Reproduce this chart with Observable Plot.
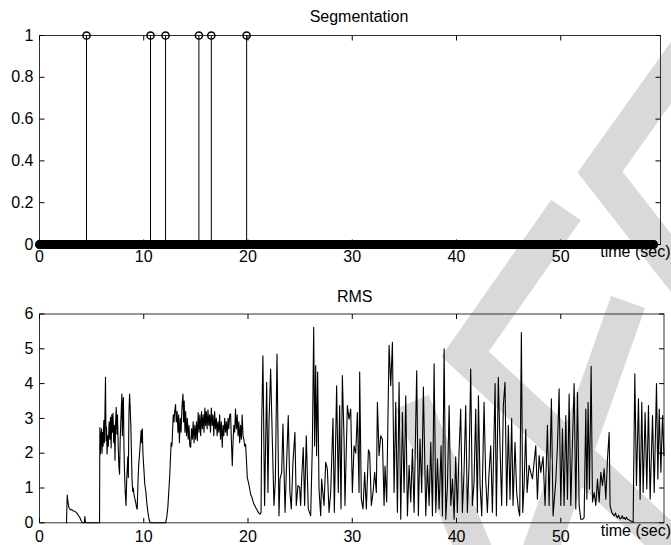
<!DOCTYPE html>
<html><head><meta charset="utf-8">
<script src="https://cdn.jsdelivr.net/npm/d3@7"></script>
<script src="https://cdn.jsdelivr.net/npm/@observablehq/plot@0.6"></script>
<style>
html,body{margin:0;padding:0;background:#fff;}
#chart{position:relative;width:671px;height:545px;overflow:hidden;background:#fff;}
#chart > svg{position:absolute;left:0;}
</style></head><body><div id="chart">
<svg id="wm" width="671" height="545" style="top:0">
<g fill="none" stroke="#d9d9d9" stroke-width="36" stroke-linejoin="miter" stroke-miterlimit="10">
<polyline points="700,32 600,172 700,300"/>
<polyline points="566,210 465,354 700,572"/>
<polyline points="412,402 478,560"/>
<polyline points="628,302 537,560"/>
</g></svg>
</div>
<script>
// ---- Segmentation (top) ----
const segBoundaries = [4.51, 10.65, 12.09, 15.29, 16.48, 19.87];
const segFrameStep = 0.05;      // analysis frame hop (s); all non-boundary frames are 0
const segDuration = 58.9;
const segXTicks = [0, 10, 20, 30, 40, 50];
const segYTicks = [0, 0.2, 0.4, 0.6, 0.8, 1];

// ---- RMS (bottom): [time (s), rms] ----
const rmsXTicks = [0, 10, 20, 30, 40, 50];
const rmsYTicks = [0, 1, 2, 3, 4, 5, 6];
const rmsPoints = [
[2.59,0],[2.66,0.8],[2.72,0.62],[2.82,0.44],[2.97,0.37],[3.1,0.38],[3.25,0.34],[3.4,0.33],[3.61,0.27],[3.75,0.2],[3.87,0.15],[4.0,0.06],[4.1,0],[4.3,0],[4.35,0.18],[4.4,0.05],[4.45,0],[5.76,0],
[5.79,2.74],[5.85,1.98],[5.9,2.5],[5.95,2.7],[6.0,2.0],[6.05,2.6],[6.1,2.2],[6.17,2.94],[6.22,2.3],[6.28,3.2],[6.33,4.18],[6.38,2.36],[6.43,2.75],[6.48,1.98],[6.55,2.5],[6.6,2.2],[6.68,2.9],[6.75,2.4],[6.81,3.03],[6.87,2.15],[6.93,3.1],[7.0,2.6],[7.05,3.15],[7.12,2.3],[7.18,2.8],[7.24,1.8],[7.3,2.9],[7.36,3.32],[7.42,2.55],[7.48,3.1],[7.55,2.2],[7.62,1.6],[7.68,1.4],[7.74,2.4],[7.8,2.9],[7.9,3.7],[7.95,2.5],[8.0,3.4],[8.05,3.6],[8.1,2.2],[8.15,1.5],[8.22,0.9],[8.3,0.5],[8.36,1.2],[8.42,1.6],[8.47,1.9],[8.52,1.3],[8.58,3.2],[8.64,3.7],[8.7,3.3],[8.76,2.8],[8.82,2.0],[8.88,1.2],[8.94,0.9],[9.0,1.0],[9.06,0.82],[9.14,0.7],[9.22,0.6],[9.3,0.45],[9.37,0.39],[9.45,1.2],[9.52,1.7],[9.58,1.9],[9.65,2.2],[9.75,2.65],[9.8,2.3],[9.86,2.7],[9.92,2.0],[10.0,1.6],[10.1,1.1],[10.2,0.9],[10.3,0.55],[10.4,0.3],[10.52,0.08],[10.62,0],
[12.09,0],[12.2,0.15],[12.31,0.44],[12.4,0.9],[12.5,1.4],[12.58,2.0],[12.63,2.3],[12.7,2.2],[12.76,2.6],[12.83,3.1],[12.9,2.9],[12.97,3.2],[13.05,3.4],[13.12,2.9],[13.2,3.2],[13.28,2.6],[13.35,3.1],[13.42,2.3],[13.5,3.0],[13.58,2.6],[13.66,3.3],[13.76,3.7],[13.82,2.9],[13.88,3.5],[13.95,2.6],[14.02,3.2],[14.1,2.5],[14.18,3.0],[14.26,2.4],[14.34,2.8],[14.42,2.2],[14.5,2.17],[14.58,2.7],[14.66,2.4],[14.74,2.9],[14.82,2.3],[14.9,2.8],[14.98,2.4],[15.06,2.9],[15.14,2.36],[15.22,3.17],[15.3,2.6],[15.38,3.1],[15.46,2.5],[15.54,3.2],[15.62,2.7],[15.7,3.1],[15.78,2.6],[15.86,3.3],[15.93,2.8],[16.0,3.2],[16.08,2.7],[16.16,3.25],[16.24,2.8],[16.32,3.1],[16.4,2.6],[16.48,3.3],[16.56,2.8],[16.64,3.1],[16.72,2.5],[16.8,3.2],[16.88,2.7],[16.96,3.0],[17.04,2.5],[17.12,2.9],[17.2,2.6],[17.28,3.1],[17.36,2.4],[17.44,2.9],[17.53,2.17],[17.6,2.8],[17.68,2.5],[17.76,3.0],[17.84,2.6],[17.92,2.9],[18.0,2.5],[18.08,3.0],[18.16,2.7],[18.24,3.1],[18.33,3.13],[18.4,2.4],[18.49,1.64],[18.56,2.3],[18.64,2.8],[18.72,2.6],[18.8,3.27],[18.88,2.7],[18.96,3.1],[19.04,2.5],[19.12,2.9],[19.2,2.3],[19.28,2.8],[19.36,2.4],[19.44,3.1],[19.52,2.5],[19.6,2.4],[19.68,2.2],[19.77,2.26],[19.85,1.8],[19.93,1.3],[20.05,1.15],[20.15,1.0],[20.25,0.82],[20.35,0.75],[20.45,0.65],[20.55,0.55],[20.65,0.5],[20.73,0.44],[20.85,0.38],[20.95,0.32],[21.05,0.28],[21.15,0.25],[21.25,0.3],
[21.31,2.84],[21.43,4.8],[21.59,0.5],[21.79,4.04],[21.91,0.87],[22.01,2.84],[22.17,4.42],[22.33,2.4],[22.49,0.5],[22.62,1.2],[22.78,4.85],[22.97,0.2],[23.07,1.26],[23.23,1.45],[23.35,2.84],[23.55,0.3],[23.71,1.8],[23.86,3.08],[24.02,0.87],[24.15,0.4],[24.31,1.73],[24.5,2.6],[24.63,0.5],[24.79,1.07],[24.95,1.02],[25.05,0.5],[25.15,1.3],[25.3,2.16],[25.43,0.5],[25.59,2.5],[25.78,0.4],[26.01,0.2],[26.17,2.21],[26.3,5.62],[26.39,2.21],[26.49,4.52],[26.58,1.93],[26.68,4.33],[26.81,0.97],[26.97,0.2],[27.06,1.26],[27.29,0.5],[27.45,1.74],[27.61,1.55],[27.77,0.3],[27.93,0.87],[28.15,3.0],[28.28,0.3],[28.5,3.94],[28.66,0.87],[28.79,3.37],[28.92,0.4],[29.05,4.23],[29.21,2.41],[29.3,0.5],[29.53,3.37],[29.69,2.98],[29.85,3.27],[30.01,0.87],[30.17,2.21],[30.33,2.0],
[30.49,3.17],[30.65,0.87],[30.71,4.33],[30.87,0.68],[31.03,0.4],[31.19,1.45],[31.35,0.4],[31.55,2.1],[31.67,2.0],[31.83,0.5],[31.99,0.87],[32.15,1.45],[32.31,0.87],[32.41,3.46],[32.57,1.93],[32.73,2.5],[32.89,2.4],[33.05,0.5],[33.14,1.63],[33.3,0.6],[33.53,5.1],[33.69,3.94],[33.85,5.19],[34.01,0.87],[34.17,3.46],[34.33,0.3],[34.49,4.04],[34.65,0.1],[34.81,3.17],[34.97,0.87],[35.13,3.65],[35.29,0.2],[35.45,1.65],[35.61,0.6],[35.77,2.12],[35.93,0.3],[36.18,4.37],[36.34,0.2],[36.5,2.41],[36.66,0.87],[36.82,3.9],[37.05,0.2],[37.21,1.65],[37.37,0.5],[37.53,2.31],[37.69,0.2],[37.85,4.57],[38.01,0.3],[38.17,1.84],[38.33,0.4],[38.52,2.21],[38.65,0.2],[38.81,5.0],[38.97,0.1],[39.13,1.07],[39.29,3.37],[39.45,0.5],[39.61,1.26],[39.77,0.1],[39.92,1.9],
[40.08,0.3],[40.24,2.02],[40.4,3.27],[40.56,0.3],[40.72,1.45],[40.88,3.37],[41.04,0.3],[41.2,1.65],[41.36,4.42],[41.52,0.5],[41.68,1.16],[41.84,3.27],[42.0,0.3],[42.1,3.65],[42.26,1.07],[42.42,0.2],[42.64,3.46],[42.8,1.26],[42.96,0.3],[43.12,1.45],[43.28,2.21],[43.44,0.3],[43.7,4.0],[43.82,0.2],[44.01,4.18],[44.17,2.21],[44.33,0.5],[44.49,3.37],[44.65,4.04],[44.81,0.5],[44.97,2.8],[45.13,0.68],[45.29,3.0],[45.42,0.5],[45.61,2.31],[45.77,0.87],[45.93,0.4],[46.06,0.2],[46.22,5.47],[46.35,0.3],[46.48,1.07],[46.64,2.69],[46.77,0.87],[46.96,1.65],[47.12,1.45],[47.28,1.26],[47.44,1.74],[47.6,2.21],[47.76,0.68],[47.92,1.93],[48.08,1.45],[48.3,1.9],[48.49,0.5],[48.72,2.8],[48.88,0.5],[49.1,3.56],[49.26,0.2],[49.52,1.2],
[49.68,2.21],[49.84,3.85],[50.0,0.5],[50.16,2.7],[50.32,0.5],[50.48,3.08],[50.64,0.68],[50.8,3.7],[50.96,0.5],[51.12,2.31],[51.28,4.0],[51.44,0.4],[51.6,3.75],[51.76,0.5],[51.92,0.1],[52.08,0.1],[52.24,0.15],[52.4,3.27],[52.5,0.68],[52.62,3.46],[52.75,0.97],[52.91,4.5],[53.04,0.6],[53.2,0.87],[53.36,0.5],[53.52,1.26],[53.68,0.6],[53.84,1.45],[54.0,1.07],[54.16,1.55],[54.32,0.68],[54.48,1.84],[54.64,2.6],[54.73,0.5],[54.89,0.3],[55.0,0.25],[55.12,0.2],[55.25,0.28],[55.35,0.18],[55.44,0.15],[55.55,0.22],[55.65,0.12],[55.76,0.12],[55.9,0.2],[56.0,0.12],[56.08,0.15],[56.2,0.1],[56.3,0.16],[56.4,0.1],[56.55,0.08],[56.72,0.05],[56.94,0.02],
[57.1,4.28],[57.26,1.07],[57.45,3.56],[57.61,0.68],[57.77,3.46],[57.9,0.87],[58.09,3.17],[58.25,0.97],[58.41,3.37],[58.57,0.68],[58.8,3.08],[58.96,0.87],[59.18,4.0],[59.31,1.26],[59.44,3.27],[59.6,1.45],[59.76,3.08],[59.9,1.93]
];

const FONT = '"Liberation Sans", Arial, Helvetica, sans-serif';
const segFrames = d3.range(0, segDuration + 1e-9, segFrameStep);

const tickSym = (dx, dy) => ({draw(ctx) { ctx.moveTo(0, 0); ctx.lineTo(dx, dy); }});
function frameTicks(xt, yt, len = 5) {
  const s = {stroke: "#000", fill: "none", strokeWidth: 1};
  return [
    Plot.dot(xt, {x: d => d, frameAnchor: "bottom", symbol: tickSym(0, -len), ...s}),
    Plot.dot(xt, {x: d => d, frameAnchor: "top", symbol: tickSym(0, len), ...s}),
    Plot.dot(yt, {y: d => d, frameAnchor: "left", symbol: tickSym(len, 0), ...s}),
    Plot.dot(yt, {y: d => d, frameAnchor: "right", symbol: tickSym(-len, 0), ...s})
  ];
}
const baseStyle = {fontSize: "16px", fontFamily: FONT, background: "transparent", overflow: "visible", color: "#000"};

const topPlot = Plot.plot({
  width: 671, height: 270,
  marginLeft: 39, marginRight: 11, marginTop: 35, marginBottom: 26,
  x: {domain: [0, 59.57]}, y: {domain: [0, 1]},
  style: baseStyle,
  marks: [
    Plot.frame({stroke: "#333"}),
    ...frameTicks(segXTicks, segYTicks),
    Plot.axisX({ticks: segXTicks, tickSize: 0, tickPadding: 6, tickFormat: d => String(d), label: null}),
    Plot.axisY({ticks: segYTicks, tickSize: 0, tickPadding: 6, tickFormat: d => String(d), label: null}),
    Plot.ruleX(segBoundaries, {x: d => d, y1: 0, y2: 1, stroke: "#000", strokeWidth: 1}),
    Plot.dot(segBoundaries, {x: d => d, y: () => 1, r: 3.6, stroke: "#000", fill: "none"}),
    Plot.dot(segFrames, {x: d => d, y: () => 0, r: 3.8, stroke: "#000", fill: "none"}),
    Plot.text(["Segmentation"], {text: d => d, frameAnchor: "top", dx: 9, dy: -25}),
    Plot.text(["time (sec)"], {text: d => d, frameAnchor: "bottom-right", textAnchor: "end", dx: 10, dy: 12})
  ]
});
topPlot.style.top = "0px";

const rmsPlot = Plot.plot({
  width: 671, height: 275,
  marginLeft: 39, marginRight: 7.5, marginTop: 43.5, marginBottom: 22.7,
  x: {domain: [0, 59.9]}, y: {domain: [0, 6]},
  style: baseStyle,
  marks: [
    Plot.frame({stroke: "#333"}),
    ...frameTicks(rmsXTicks, rmsYTicks),
    Plot.axisX({ticks: rmsXTicks, tickSize: 0, tickPadding: 8, tickFormat: d => String(d), label: null}),
    Plot.axisY({ticks: rmsYTicks, tickSize: 0, tickPadding: 6, tickFormat: d => String(d), label: null}),
    Plot.line(rmsPoints, {x: d => d[0], y: d => d[1], stroke: "#000", strokeWidth: 1.1, curve: "linear"}),
    Plot.text(["RMS"], {text: d => d, frameAnchor: "top", dx: 3, dy: -23}),
    Plot.text(["time (sec)"], {text: d => d, frameAnchor: "bottom-right", textAnchor: "end", dx: 7, dy: 13})
  ]
});
rmsPlot.style.top = "270px";

const chart = document.getElementById("chart");
chart.appendChild(topPlot);
chart.appendChild(rmsPlot);
</script></body></html>
